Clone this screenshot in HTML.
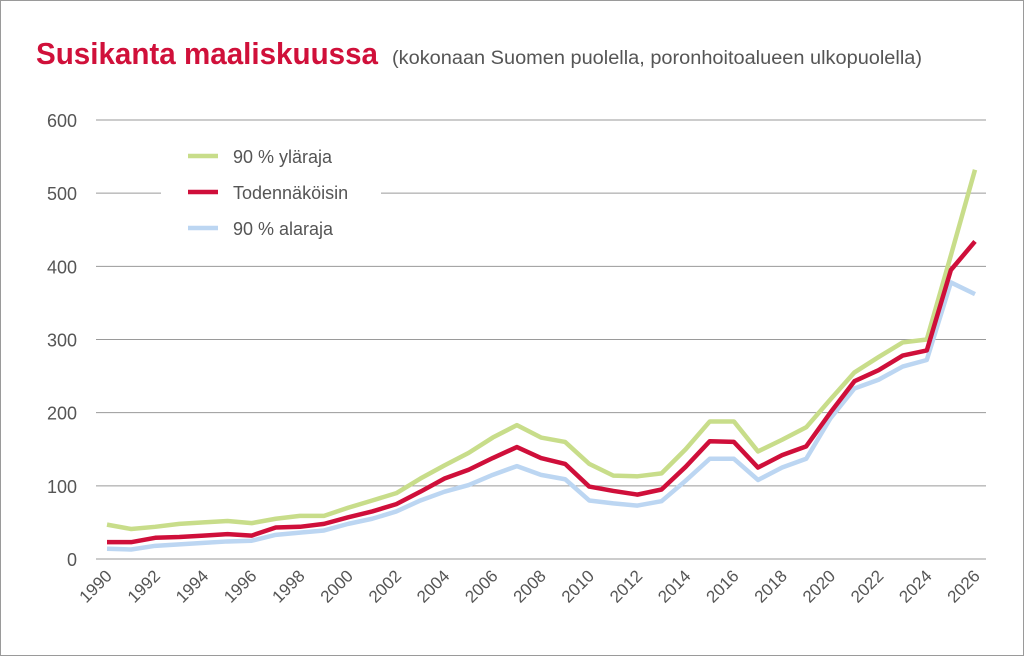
<!DOCTYPE html>
<html><head><meta charset="utf-8"><style>
html,body{margin:0;padding:0;background:#fff}
#wrap{position:relative;width:1022px;height:654px;border:1px solid #9a9a9a;overflow:hidden;font-family:"Liberation Sans",sans-serif}
</style></head><body>
<div id="wrap">
<svg id="chart" width="1022" height="654">
<text x="35" y="63" font-family="Liberation Sans Narrow,Liberation Sans,sans-serif" font-weight="bold" font-size="31" fill="#d0103a" textLength="342" lengthAdjust="spacingAndGlyphs">Susikanta maaliskuussa</text>
<text x="391" y="63" font-size="19" fill="#555" textLength="530" lengthAdjust="spacingAndGlyphs">(kokonaan Suomen puolella, poronhoitoalueen ulkopuolella)</text>
<g id="grid"></g><g id="series"></g>
<g>
<rect x="160" y="135" width="220" height="110" fill="#fff"/>
<line x1="187" y1="155" x2="217" y2="155" stroke="#c8dd8a" stroke-width="4.5"/>
<text x="232" y="162" font-size="18" fill="#555">90 % yläraja</text>
<line x1="187" y1="191" x2="217" y2="191" stroke="#cf0f3a" stroke-width="4.5"/>
<text x="232" y="198" font-size="18" fill="#555">Todennäköisin</text>
<line x1="187" y1="227" x2="217" y2="227" stroke="#bcd6f2" stroke-width="4.5"/>
<text x="232" y="234" font-size="18" fill="#555">90 % alaraja</text>
</g>
</svg>
</div>
<script>
const years=[];for(let y=1990;y<=2026;y++)years.push(y);
const upper=[47,41,44,48,50,52,49,55,59,59,70,80,90,110,128,145,166,183,166,160,130,114,113,117,150,188,188,147,163,180,218,255,276,296,300,415,532];
const likely=[23,23,29,30,32,34,32,43,44,48,57,65,75,92,110,122,138,153,138,130,99,93,88,95,126,161,160,125,142,154,200,243,258,278,285,395,434];
const lower=[14,13,18,20,22,24,25,33,36,39,48,55,65,80,92,101,115,127,115,109,80,76,73,79,107,137,137,108,125,137,192,233,245,263,272,378,362];
const yTicks=[0,100,200,300,400,500,600];
const NS="http://www.w3.org/2000/svg";
const xS=i=>106+i*(974-106)/(years.length-1);
const yS=v=>558-v*(558-119)/600;
const grid=document.getElementById('grid');
yTicks.forEach(t=>{
 const l=document.createElementNS(NS,'line');
 l.setAttribute('x1',95);l.setAttribute('x2',985);l.setAttribute('y1',yS(t));l.setAttribute('y2',yS(t));
 l.setAttribute('stroke','#9a9a9a');l.setAttribute('stroke-width','1');
 
 
 grid.appendChild(l);
 const tx=document.createElementNS(NS,'text');
 tx.setAttribute('x',76);tx.setAttribute('y',yS(t)+7);tx.setAttribute('text-anchor','end');
 tx.setAttribute('font-size','18');tx.setAttribute('fill','#555');tx.textContent=t;
 
 
 grid.appendChild(tx);
});
years.forEach((y,i)=>{
 if(y%2)return;
 const tx=document.createElementNS(NS,'text');
 const x=xS(i)+6,yy=576;
 tx.setAttribute('x',x);tx.setAttribute('y',yy);tx.setAttribute('text-anchor','end');
 tx.setAttribute('transform','rotate(-45 '+x+' '+yy+')');
 tx.setAttribute('font-size','17');tx.setAttribute('fill','#555');tx.textContent=y;
 
 
 grid.appendChild(tx);
});
const ser=document.getElementById('series');
[[lower,'#bcd6f2','series-lower'],[upper,'#c8dd8a','series-upper'],[likely,'#cf0f3a','series-likely']].forEach(([d,c,n])=>{
 const p=document.createElementNS(NS,'polyline');
 p.setAttribute('points',d.map((v,i)=>xS(i)+','+yS(v)).join(' '));
 p.setAttribute('fill','none');p.setAttribute('stroke',c);p.setAttribute('stroke-width','4.5');
 p.setAttribute('stroke-linejoin','round');
 
 
 ser.appendChild(p);
});
</script>
</body></html>
